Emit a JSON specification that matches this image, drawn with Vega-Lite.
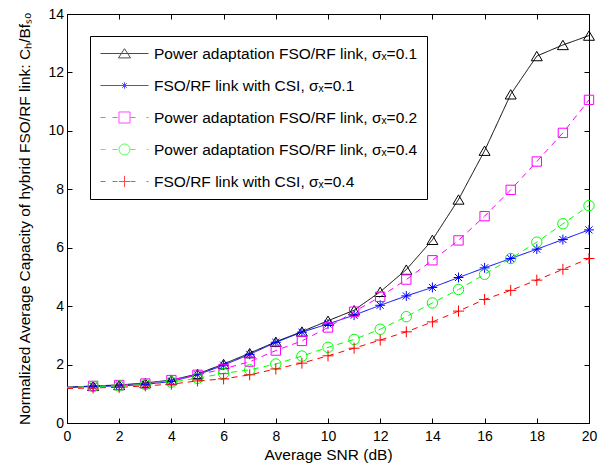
{
  "$schema": "https://vega.github.io/schema/vega-lite/v6.json",
  "width": 522,
  "height": 409,
  "autosize": "none",
  "padding": {"left": 67, "top": 14, "right": 13, "bottom": 45},
  "background": "white",
  "config": {
    "font": "Liberation Sans",
    "view": {"stroke": "black", "strokeWidth": 1},
    "axis": {
      "grid": false,
      "domainColor": "black",
      "domainWidth": 1,
      "tickColor": "black",
      "tickWidth": 1,
      "tickSize": -5,
      "labelColor": "black",
      "labelFontSize": 14,
      "labelFlush": false,
      "labelOverlap": false,
      "titleColor": "black",
      "titleFontSize": 15.5,
      "titleFontWeight": "normal"
    }
  },
  "data": {
    "values": [
      {"x": 0, "y": 1.22, "s": "Power adaptation FSO/RF link, σₓ=0.1"},
      {"x": 1, "y": 1.27, "s": "Power adaptation FSO/RF link, σₓ=0.1"},
      {"x": 2, "y": 1.30, "s": "Power adaptation FSO/RF link, σₓ=0.1"},
      {"x": 3, "y": 1.37, "s": "Power adaptation FSO/RF link, σₓ=0.1"},
      {"x": 4, "y": 1.47, "s": "Power adaptation FSO/RF link, σₓ=0.1"},
      {"x": 5, "y": 1.68, "s": "Power adaptation FSO/RF link, σₓ=0.1"},
      {"x": 6, "y": 2.02, "s": "Power adaptation FSO/RF link, σₓ=0.1"},
      {"x": 7, "y": 2.39, "s": "Power adaptation FSO/RF link, σₓ=0.1"},
      {"x": 8, "y": 2.78, "s": "Power adaptation FSO/RF link, σₓ=0.1"},
      {"x": 9, "y": 3.13, "s": "Power adaptation FSO/RF link, σₓ=0.1"},
      {"x": 10, "y": 3.50, "s": "Power adaptation FSO/RF link, σₓ=0.1"},
      {"x": 11, "y": 3.86, "s": "Power adaptation FSO/RF link, σₓ=0.1"},
      {"x": 12, "y": 4.49, "s": "Power adaptation FSO/RF link, σₓ=0.1"},
      {"x": 13, "y": 5.25, "s": "Power adaptation FSO/RF link, σₓ=0.1"},
      {"x": 14, "y": 6.27, "s": "Power adaptation FSO/RF link, σₓ=0.1"},
      {"x": 15, "y": 7.65, "s": "Power adaptation FSO/RF link, σₓ=0.1"},
      {"x": 16, "y": 9.32, "s": "Power adaptation FSO/RF link, σₓ=0.1"},
      {"x": 17, "y": 11.25, "s": "Power adaptation FSO/RF link, σₓ=0.1"},
      {"x": 18, "y": 12.56, "s": "Power adaptation FSO/RF link, σₓ=0.1"},
      {"x": 19, "y": 12.94, "s": "Power adaptation FSO/RF link, σₓ=0.1"},
      {"x": 20, "y": 13.26, "s": "Power adaptation FSO/RF link, σₓ=0.1"},

      {"x": 0, "y": 1.22, "s": "FSO/RF link with CSI, σₓ=0.1"},
      {"x": 1, "y": 1.25, "s": "FSO/RF link with CSI, σₓ=0.1"},
      {"x": 2, "y": 1.27, "s": "FSO/RF link with CSI, σₓ=0.1"},
      {"x": 3, "y": 1.32, "s": "FSO/RF link with CSI, σₓ=0.1"},
      {"x": 4, "y": 1.42, "s": "FSO/RF link with CSI, σₓ=0.1"},
      {"x": 5, "y": 1.65, "s": "FSO/RF link with CSI, σₓ=0.1"},
      {"x": 6, "y": 1.98, "s": "FSO/RF link with CSI, σₓ=0.1"},
      {"x": 7, "y": 2.35, "s": "FSO/RF link with CSI, σₓ=0.1"},
      {"x": 8, "y": 2.76, "s": "FSO/RF link with CSI, σₓ=0.1"},
      {"x": 9, "y": 3.11, "s": "FSO/RF link with CSI, σₓ=0.1"},
      {"x": 10, "y": 3.39, "s": "FSO/RF link with CSI, σₓ=0.1"},
      {"x": 11, "y": 3.69, "s": "FSO/RF link with CSI, σₓ=0.1"},
      {"x": 12, "y": 4.03, "s": "FSO/RF link with CSI, σₓ=0.1"},
      {"x": 13, "y": 4.35, "s": "FSO/RF link with CSI, σₓ=0.1"},
      {"x": 14, "y": 4.64, "s": "FSO/RF link with CSI, σₓ=0.1"},
      {"x": 15, "y": 4.98, "s": "FSO/RF link with CSI, σₓ=0.1"},
      {"x": 16, "y": 5.31, "s": "FSO/RF link with CSI, σₓ=0.1"},
      {"x": 17, "y": 5.63, "s": "FSO/RF link with CSI, σₓ=0.1"},
      {"x": 18, "y": 5.95, "s": "FSO/RF link with CSI, σₓ=0.1"},
      {"x": 19, "y": 6.28, "s": "FSO/RF link with CSI, σₓ=0.1"},
      {"x": 20, "y": 6.61, "s": "FSO/RF link with CSI, σₓ=0.1"},

      {"x": 0, "y": 1.22, "s": "Power adaptation FSO/RF link, σₓ=0.2"},
      {"x": 1, "y": 1.27, "s": "Power adaptation FSO/RF link, σₓ=0.2"},
      {"x": 2, "y": 1.30, "s": "Power adaptation FSO/RF link, σₓ=0.2"},
      {"x": 3, "y": 1.35, "s": "Power adaptation FSO/RF link, σₓ=0.2"},
      {"x": 4, "y": 1.47, "s": "Power adaptation FSO/RF link, σₓ=0.2"},
      {"x": 5, "y": 1.65, "s": "Power adaptation FSO/RF link, σₓ=0.2"},
      {"x": 6, "y": 1.85, "s": "Power adaptation FSO/RF link, σₓ=0.2"},
      {"x": 7, "y": 2.10, "s": "Power adaptation FSO/RF link, σₓ=0.2"},
      {"x": 8, "y": 2.48, "s": "Power adaptation FSO/RF link, σₓ=0.2"},
      {"x": 9, "y": 2.81, "s": "Power adaptation FSO/RF link, σₓ=0.2"},
      {"x": 10, "y": 3.27, "s": "Power adaptation FSO/RF link, σₓ=0.2"},
      {"x": 11, "y": 3.81, "s": "Power adaptation FSO/RF link, σₓ=0.2"},
      {"x": 12, "y": 4.32, "s": "Power adaptation FSO/RF link, σₓ=0.2"},
      {"x": 13, "y": 4.91, "s": "Power adaptation FSO/RF link, σₓ=0.2"},
      {"x": 14, "y": 5.57, "s": "Power adaptation FSO/RF link, σₓ=0.2"},
      {"x": 15, "y": 6.25, "s": "Power adaptation FSO/RF link, σₓ=0.2"},
      {"x": 16, "y": 7.08, "s": "Power adaptation FSO/RF link, σₓ=0.2"},
      {"x": 17, "y": 7.98, "s": "Power adaptation FSO/RF link, σₓ=0.2"},
      {"x": 18, "y": 8.95, "s": "Power adaptation FSO/RF link, σₓ=0.2"},
      {"x": 19, "y": 9.93, "s": "Power adaptation FSO/RF link, σₓ=0.2"},
      {"x": 20, "y": 11.06, "s": "Power adaptation FSO/RF link, σₓ=0.2"},

      {"x": 0, "y": 1.22, "s": "Power adaptation FSO/RF link, σₓ=0.4"},
      {"x": 1, "y": 1.25, "s": "Power adaptation FSO/RF link, σₓ=0.4"},
      {"x": 2, "y": 1.27, "s": "Power adaptation FSO/RF link, σₓ=0.4"},
      {"x": 3, "y": 1.32, "s": "Power adaptation FSO/RF link, σₓ=0.4"},
      {"x": 4, "y": 1.40, "s": "Power adaptation FSO/RF link, σₓ=0.4"},
      {"x": 5, "y": 1.53, "s": "Power adaptation FSO/RF link, σₓ=0.4"},
      {"x": 6, "y": 1.70, "s": "Power adaptation FSO/RF link, σₓ=0.4"},
      {"x": 7, "y": 1.82, "s": "Power adaptation FSO/RF link, σₓ=0.4"},
      {"x": 8, "y": 2.02, "s": "Power adaptation FSO/RF link, σₓ=0.4"},
      {"x": 9, "y": 2.29, "s": "Power adaptation FSO/RF link, σₓ=0.4"},
      {"x": 10, "y": 2.59, "s": "Power adaptation FSO/RF link, σₓ=0.4"},
      {"x": 11, "y": 2.86, "s": "Power adaptation FSO/RF link, σₓ=0.4"},
      {"x": 12, "y": 3.21, "s": "Power adaptation FSO/RF link, σₓ=0.4"},
      {"x": 13, "y": 3.64, "s": "Power adaptation FSO/RF link, σₓ=0.4"},
      {"x": 14, "y": 4.11, "s": "Power adaptation FSO/RF link, σₓ=0.4"},
      {"x": 15, "y": 4.57, "s": "Power adaptation FSO/RF link, σₓ=0.4"},
      {"x": 16, "y": 5.09, "s": "Power adaptation FSO/RF link, σₓ=0.4"},
      {"x": 17, "y": 5.63, "s": "Power adaptation FSO/RF link, σₓ=0.4"},
      {"x": 18, "y": 6.19, "s": "Power adaptation FSO/RF link, σₓ=0.4"},
      {"x": 19, "y": 6.82, "s": "Power adaptation FSO/RF link, σₓ=0.4"},
      {"x": 20, "y": 7.44, "s": "Power adaptation FSO/RF link, σₓ=0.4"},

      {"x": 0, "y": 1.18, "s": "FSO/RF link with CSI, σₓ=0.4"},
      {"x": 1, "y": 1.20, "s": "FSO/RF link with CSI, σₓ=0.4"},
      {"x": 2, "y": 1.22, "s": "FSO/RF link with CSI, σₓ=0.4"},
      {"x": 3, "y": 1.27, "s": "FSO/RF link with CSI, σₓ=0.4"},
      {"x": 4, "y": 1.33, "s": "FSO/RF link with CSI, σₓ=0.4"},
      {"x": 5, "y": 1.44, "s": "FSO/RF link with CSI, σₓ=0.4"},
      {"x": 6, "y": 1.51, "s": "FSO/RF link with CSI, σₓ=0.4"},
      {"x": 7, "y": 1.65, "s": "FSO/RF link with CSI, σₓ=0.4"},
      {"x": 8, "y": 1.85, "s": "FSO/RF link with CSI, σₓ=0.4"},
      {"x": 9, "y": 2.05, "s": "FSO/RF link with CSI, σₓ=0.4"},
      {"x": 10, "y": 2.30, "s": "FSO/RF link with CSI, σₓ=0.4"},
      {"x": 11, "y": 2.56, "s": "FSO/RF link with CSI, σₓ=0.4"},
      {"x": 12, "y": 2.84, "s": "FSO/RF link with CSI, σₓ=0.4"},
      {"x": 13, "y": 3.12, "s": "FSO/RF link with CSI, σₓ=0.4"},
      {"x": 14, "y": 3.46, "s": "FSO/RF link with CSI, σₓ=0.4"},
      {"x": 15, "y": 3.83, "s": "FSO/RF link with CSI, σₓ=0.4"},
      {"x": 16, "y": 4.23, "s": "FSO/RF link with CSI, σₓ=0.4"},
      {"x": 17, "y": 4.54, "s": "FSO/RF link with CSI, σₓ=0.4"},
      {"x": 18, "y": 4.89, "s": "FSO/RF link with CSI, σₓ=0.4"},
      {"x": 19, "y": 5.26, "s": "FSO/RF link with CSI, σₓ=0.4"},
      {"x": 20, "y": 5.63, "s": "FSO/RF link with CSI, σₓ=0.4"}
    ]
  },
  "layer": [
    {
      "mark": {"type": "line", "strokeWidth": 1, "clip": true},
      "encoding": {
        "x": {"field": "x", "type": "quantitative", "scale": {"domain": [0, 20], "nice": false},
              "axis": {"orient": "top", "labels": false, "title": null, "values": [0,2,4,6,8,10,12,14,16,18,20]}},
        "y": {"field": "y", "type": "quantitative", "scale": {"domain": [0, 14], "nice": false},
              "axis": {"orient": "right", "labels": false, "title": null, "values": [0,2,4,6,8,10,12,14]}},
        "color": {"field": "s", "type": "nominal", "legend": null,
          "scale": {"domain": ["Power adaptation FSO/RF link, σₓ=0.1", "FSO/RF link with CSI, σₓ=0.1", "Power adaptation FSO/RF link, σₓ=0.2", "Power adaptation FSO/RF link, σₓ=0.4", "FSO/RF link with CSI, σₓ=0.4"],
                    "range": ["#000000", "#0000ff", "#ff00ff", "#00ff00", "#ff0000"]}},
        "strokeDash": {"field": "s", "type": "nominal", "legend": null,
          "scale": {"domain": ["Power adaptation FSO/RF link, σₓ=0.1", "FSO/RF link with CSI, σₓ=0.1", "Power adaptation FSO/RF link, σₓ=0.2", "Power adaptation FSO/RF link, σₓ=0.4", "FSO/RF link with CSI, σₓ=0.4"],
                    "range": [[1, 0], [1, 0], [6, 5], [6, 5], [6, 5]]}}
      }
    },
    {
      "transform": [{"filter": "datum.x >= 1"}],
      "mark": {"type": "point", "filled": false, "strokeWidth": 1, "size": 121, "opacity": 1},
      "encoding": {
        "x": {"field": "x", "type": "quantitative",
              "axis": {"orient": "bottom", "title": "Average SNR (dB)", "values": [0,2,4,6,8,10,12,14,16,18,20], "labelPadding": 11, "titlePadding": 4}},
        "y": {"field": "y", "type": "quantitative",
              "axis": {"orient": "left", "title": "Normalized Average Capacity of hybrid FSO/RF link: Cₕ/Bfₛₒ", "values": [0,2,4,6,8,10,12,14], "labelPadding": 8.5, "titlePadding": 15}},
        "color": {"field": "s", "type": "nominal", "legend": null},
        "shape": {"field": "s", "type": "nominal", "legend": null,
          "scale": {"domain": ["Power adaptation FSO/RF link, σₓ=0.1", "FSO/RF link with CSI, σₓ=0.1", "Power adaptation FSO/RF link, σₓ=0.2", "Power adaptation FSO/RF link, σₓ=0.4", "FSO/RF link with CSI, σₓ=0.4"],
                    "range": [
                      "M0,-0.85L1,0.85L-1,0.85Z",
                      "M-0.9,0L0.9,0M0,-0.9L0,0.9M-0.64,-0.64L0.64,0.64M-0.64,0.64L0.64,-0.64",
                      "M-0.85,-0.85L0.85,-0.85L0.85,0.85L-0.85,0.85Z",
                      "M0.95,0A0.95,0.95 0 1,1 -0.95,0A0.95,0.95 0 1,1 0.95,0Z",
                      "M-1,0L1,0M0,-1L0,1"
                    ]}}
      }
    },
    {
      "transform": [{"filter": "false"}],
      "mark": {"type": "point", "filled": false, "strokeWidth": 1},
      "encoding": {
        "x": {"field": "x", "type": "quantitative", "axis": null},
        "y": {"field": "y", "type": "quantitative", "axis": null},
        "stroke": {"field": "s", "type": "nominal",
          "scale": {"domain": ["Power adaptation FSO/RF link, σₓ=0.1", "FSO/RF link with CSI, σₓ=0.1", "Power adaptation FSO/RF link, σₓ=0.2", "Power adaptation FSO/RF link, σₓ=0.4", "FSO/RF link with CSI, σₓ=0.4"],
                    "range": ["#000000", "#0000ff", "#ff00ff", "#00ff00", "#ff0000"]},
          "legend": {"title": null, "orient": "none", "legendX": 23, "legendY": 22, "strokeColor": "black", "fillColor": "white", "padding": 9,
                     "rowPadding": 15, "symbolSize": 256, "symbolStrokeWidth": 1, "labelOffset": 38, "labelFontSize": 15.5, "labelColor": "black", "labelLimit": 400}},
        "shape": {"field": "s", "type": "nominal",
          "scale": {"domain": ["Power adaptation FSO/RF link, σₓ=0.1", "FSO/RF link with CSI, σₓ=0.1", "Power adaptation FSO/RF link, σₓ=0.2", "Power adaptation FSO/RF link, σₓ=0.4", "FSO/RF link with CSI, σₓ=0.4"],
                    "range": [
                      "M-0.875,0L5.125,0M2.125,-0.6L2.875,0.55L1.375,0.55Z",
                      "M-0.875,0L5.125,0M1.725,0L2.525,0M2.125,-0.4L2.125,0.4M1.84,-0.285L2.41,0.285M1.84,0.285L2.41,-0.285",
                      "M-0.875,0L-0.25,0M0.625,0L1.25,0M2.875,0L3.5,0M4.875,0L5.125,0M1.435,-0.69L2.815,-0.69L2.815,0.69L1.435,0.69Z",
                      "M-0.875,0L-0.25,0M0.625,0L1.25,0M2.875,0L3.5,0M4.875,0L5.125,0M2.815,0A0.69,0.69 0 1,1 1.435,0A0.69,0.69 0 1,1 2.815,0Z",
                      "M-0.875,0L-0.25,0M0.625,0L1.25,0M2.875,0L3.5,0M4.875,0L5.125,0M1.425,0L2.825,0M2.125,-0.7L2.125,0.7"
                    ]},
          "legend": {"title": null, "orient": "none", "legendX": 23, "legendY": 22, "strokeColor": "black", "fillColor": "white", "padding": 9,
                     "rowPadding": 15, "symbolSize": 256, "symbolStrokeWidth": 1, "labelOffset": 38, "labelFontSize": 15.5, "labelColor": "black", "labelLimit": 400}}
      }
    }
  ],
  "resolve": {
    "axis": {"x": "independent", "y": "independent"},
    "scale": {"shape": "independent", "stroke": "independent"}
  }
}
